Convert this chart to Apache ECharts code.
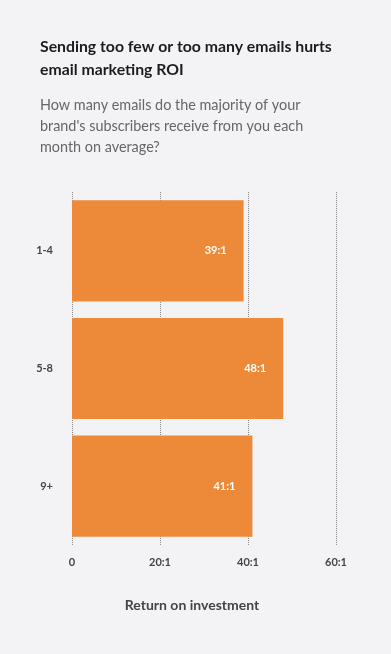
<!DOCTYPE html>
<html><head><meta charset="utf-8">
<script src="https://cdn.jsdelivr.net/npm/echarts@6/dist/echarts.min.js"></script>
<style>html,body{margin:0;padding:0;background:#f3f3f5;}#c{width:391px;height:654px;}</style>
</head><body><div id="c"></div>
<script>
const categories = ['1-4', '5-8', '9+'];
const roiValues = [39, 48, 41];
const xTicks = [0, 20, 40, 60];
const titleLines = ['Sending too few or too many emails hurts', 'email marketing ROI'];
const subtitleLines = ["How many emails do the majority of your", "brand's subscribers receive from you each", 'month on average?'];
const xAxisName = 'Return on investment';

const chart = echarts.init(document.getElementById('c'));
const FONT = 'Lato, "Open Sans", sans-serif';
chart.setOption({
  backgroundColor: '#f3f3f5',
  animation: false,
  title: [
    { text: titleLines.join('\n'), left: 35, top: 30,
      textStyle: { fontFamily: FONT, fontSize: 15.8, fontWeight: 'bold', color: '#1c1c1c', lineHeight: 23 } },
    { text: subtitleLines.join('\n'), left: 35, top: 90,
      textStyle: { fontFamily: FONT, fontSize: 14.4, fontWeight: 'normal', color: '#666', lineHeight: 21 } }
  ],
  grid: { left: 72, right: 55, top: 192, bottom: 109, containLabel: false },
  xAxis: {
    type: 'value', min: 0, max: 60, interval: 20,
    name: xAxisName, nameLocation: 'middle', nameGap: 53,
    nameTextStyle: { fontFamily: FONT, fontSize: 14, color: '#444', fontWeight: 'bold', padding: [0, 24, 0, 0] },
    axisLine: { show: false }, axisTick: { show: false },
    axisLabel: { fontFamily: FONT, fontSize: 11, color: '#444', fontWeight: 'bold', margin: 12,
      formatter: v => xTicks.includes(v) ? (v === 0 ? '0' : v + ':1') : '' },
    splitLine: { show: true, lineStyle: { type: 'dotted', color: '#8a8a8a', width: 1 } }
  },
  yAxis: {
    type: 'category', data: categories, inverse: true,
    axisLine: { show: false }, axisTick: { show: false },
    axisLabel: { fontFamily: FONT, fontSize: 11, color: '#444', fontWeight: 'bold', margin: 19 }
  },
  series: [{
    type: 'bar', data: roiValues, barCategoryGap: '14%',
    itemStyle: { color: '#ed8a3a' },
    label: { show: true, position: 'insideRight', distance: 17, formatter: p => p.value + ':1',
      fontFamily: FONT, fontSize: 11, fontWeight: 'bold', color: '#fff' }
  }]
});
</script></body></html>
